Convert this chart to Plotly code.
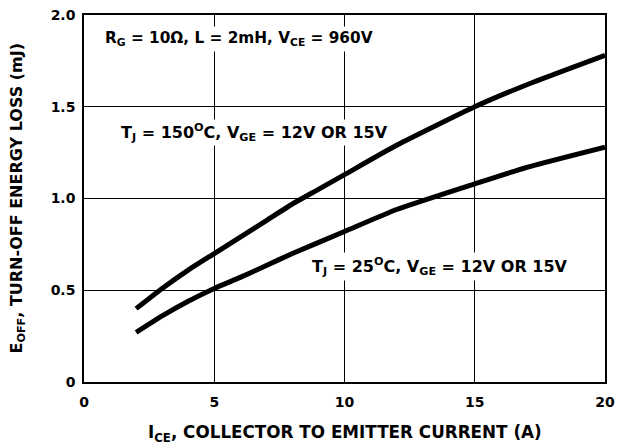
import plotly.graph_objects as go

# Data
ice_hot = [2, 3, 4, 5, 6, 7, 8, 9, 10, 12, 15, 17, 20]
eoff_hot = [0.40, 0.51, 0.61, 0.70, 0.79, 0.88, 0.97, 1.05, 1.13, 1.29, 1.50, 1.62, 1.78]
ice_cold = [2, 3, 4, 5, 6, 7, 8, 10, 12, 15, 17, 20]
eoff_cold = [0.27, 0.36, 0.44, 0.51, 0.57, 0.635, 0.70, 0.82, 0.94, 1.08, 1.17, 1.28]

x_ticks = [0, 5, 10, 15, 20]
x_tick_text = ["0", "5", "10", "15", "20"]
y_ticks = [0, 0.5, 1.0, 1.5, 2.0]
y_tick_text = ["0", "0.5", "1.0", "1.5", "2.0"]

FONT = "DejaVu Sans, Verdana, sans-serif"

fig = go.Figure()
fig.add_trace(go.Scatter(x=ice_hot, y=eoff_hot, mode="lines",
                         line=dict(color="black", width=5, shape="spline", smoothing=0.5),
                         showlegend=False))
fig.add_trace(go.Scatter(x=ice_cold, y=eoff_cold, mode="lines",
                         line=dict(color="black", width=5, shape="spline", smoothing=0.5),
                         showlegend=False))

fig.add_annotation(x=0.69, y=1.869, xref="x", yref="y", xanchor="left", yanchor="middle",
                   text="R<sub>G</sub> = 10Ω, L = 2mH, V<sub>CE</sub> = 960V",
                   showarrow=False, font=dict(family=FONT, size=15.3, color="black", weight="bold"),
                   bgcolor="white", borderpad=2)
fig.add_annotation(x=1.36, y=1.362, xref="x", yref="y", xanchor="left", yanchor="middle",
                   text="T<sub>J</sub> = 150<sup>O</sup>C, V<sub>GE</sub> = 12V OR 15V",
                   showarrow=False, font=dict(family=FONT, size=16, color="black", weight="bold"),
                   bgcolor="white", borderpad=1)
fig.add_annotation(x=8.64, y=0.627, xref="x", yref="y", xanchor="left", yanchor="middle",
                   text="T<sub>J</sub> = 25<sup>O</sup>C, V<sub>GE</sub> = 12V OR 15V",
                   showarrow=False, font=dict(family=FONT, size=16, color="black", weight="bold"),
                   bgcolor="white", borderpad=2)

fig.add_annotation(x=0.5, y=0, xref="paper", yref="paper", xanchor="center", yanchor="middle",
                   yshift=-51, text="I<sub>CE</sub>, COLLECTOR TO EMITTER CURRENT (A)",
                   showarrow=False, font=dict(family=FONT, size=16.8, color="black", weight="bold"))
fig.add_annotation(x=0, y=0.5, xref="paper", yref="paper", xanchor="center", yanchor="middle",
                   xshift=-67, textangle=-90, text="E<sub>OFF</sub>, TURN-OFF ENERGY LOSS (mJ)",
                   showarrow=False, font=dict(family=FONT, size=16, color="black", weight="bold"))

axis_common = dict(showgrid=True, gridcolor="black", gridwidth=1,
                   showline=True, linecolor="black", linewidth=1.5, mirror=True,
                   zeroline=False, ticks="", automargin=False, ticklabeloverflow="allow",
                   tickfont=dict(family=FONT, size=14, color="black", weight="bold"))

fig.update_xaxes(range=[0, 20], tickvals=x_ticks, ticktext=x_tick_text, ticklabelstandoff=6,
                 **axis_common)
fig.update_yaxes(range=[0, 2.0], tickvals=y_ticks, ticktext=y_tick_text, ticklabelstandoff=4,
                 **axis_common)

# page body has an 8px margin, so the figure is offset by (8, 8)
fig.update_layout(width=618, height=437,
                  margin=dict(l=76, r=21, t=7, b=63),
                  paper_bgcolor="white", plot_bgcolor="white",
                  font=dict(family=FONT, color="black"))

fig.write_html("out.html")
